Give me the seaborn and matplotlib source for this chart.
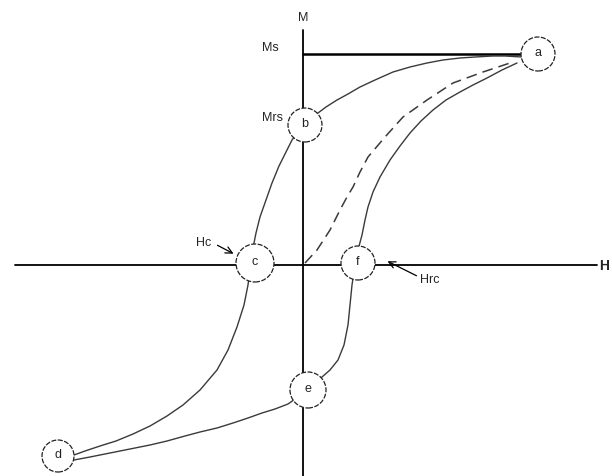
import matplotlib
matplotlib.use("Agg")
import seaborn as sns
from matplotlib import pyplot as plt
from matplotlib.patches import Circle

# diagram units: H to the right, M up, origin where the axes cross
upper_h = [219, 202, 190, 172, 157, 140, 124, 107, 90, 72, 57, 45, 34, 23, 15, 1,
           -11, -17, -24, -31, -37, -43, -47, -50, -52, -55, -59, -66, -75, -86,
           -103, -120, -136, -153, -170, -187, -203, -218, -229]
upper_m = [208, 209, 209, 208, 207, 205, 202, 198, 193, 185, 178, 171, 165, 158, 152, 140,
           125, 113, 99, 82, 65, 48, 32, 17, 2, -20, -40, -62, -85, -105,
           -125, -140, -151, -161, -169, -176, -181, -186, -190]

lower_h = [-229, -213, -193, -173, -153, -136, -118, -103, -86, -70, -55, -41, -28, -15,
           5, 19, 27, 35, 41, 45, 47, 49, 52, 55, 59, 62, 65, 70, 77, 87, 97, 107,
           118, 130, 143, 157, 170, 184, 199, 214]
lower_m = [-195, -192, -188, -184, -180, -176, -171, -167, -163, -158, -153, -148, -144, -139,
           -125, -112, -105, -95, -80, -60, -40, -20, 0, 15, 30, 45, 58, 73, 88, 105, 119, 132,
           144, 155, 165, 173, 180, 187, 195, 202]

virgin_h = [2, 14, 27, 37, 44, 50, 57, 65, 82, 100, 124, 150, 180, 207]
virgin_m = [2, 15, 35, 55, 68, 78, 93, 108, 128, 148, 165, 182, 193, 202]

point_names = ["a", "b", "c", "d", "e", "f"]
point_h = [235, 2, -48, -245, 5, 55]
point_m = [211, 140, 2, -191, -125, 2]
point_r = [17, 17, 19, 16, 18, 17]

ms_level = 211

sns.set_theme(style="white")
plt.rcParams["font.family"] = ["Liberation Sans", "DejaVu Sans"]

fig = plt.figure(figsize=(6.12, 4.76), dpi=100)
ax = fig.add_axes([0, 0, 1, 1])
ax.set_xlim(-303, 309)
ax.set_ylim(-211, 265)
ax.axis("off")

curve_col = "#3a3a3a"

# axes of the diagram
ax.plot([0, 0], [235, -211], color="black", lw=1.3, zorder=2)
ax.plot([-288, 294], [0, 0], color="black", lw=1.3, zorder=2)
ax.plot([0, point_h[0]], [ms_level, ms_level], color="black", lw=1.8, zorder=2)

sns.lineplot(x=upper_h, y=upper_m, sort=False, estimator=None, ax=ax,
             color=curve_col, lw=1.0, zorder=3)
sns.lineplot(x=lower_h, y=lower_m, sort=False, estimator=None, ax=ax,
             color=curve_col, lw=1.0, zorder=3)
sns.lineplot(x=virgin_h, y=virgin_m, sort=False, estimator=None, ax=ax,
             color=curve_col, lw=1.1, zorder=3, dashes=False, linestyle=(0, (7, 4)))

for name, h, m, r in zip(point_names, point_h, point_m, point_r):
    ax.add_patch(Circle((h, m), r, facecolor="white", edgecolor="#222222",
                        lw=0.9, linestyle=(0, (4, 1.2)), zorder=4))
    ax.text(h, m + 1, name, ha="center", va="center", fontsize=9, zorder=5,
            color="#222222")

ax.text(0, 247, "M", ha="center", va="center", fontsize=9)
ax.text(296, -1, "H", ha="left", va="center", fontsize=10, fontweight="bold")
ax.text(-24, 217, "Ms", ha="right", va="center", fontsize=9)
ax.text(-20, 147, "Mrs", ha="right", va="center", fontsize=9)
ax.text(-92, 22, "Hc", ha="right", va="center", fontsize=9)
ax.text(117, -15, "Hrc", ha="left", va="center", fontsize=9)

arrow = dict(arrowstyle="->", color="black", lw=0.9)
ax.annotate("", xy=(-67, 10), xytext=(-88, 21), arrowprops=arrow)
ax.annotate("", xy=(82, 5), xytext=(116, -12), arrowprops=arrow)

fig.savefig("out.png", dpi=100)
